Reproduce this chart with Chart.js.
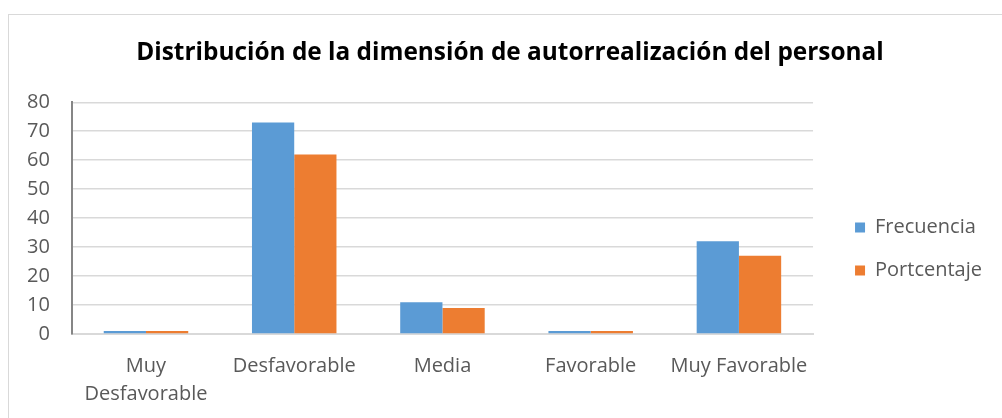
<!DOCTYPE html>
<html>
<head>
<meta charset="utf-8">
<script src="https://cdn.jsdelivr.net/npm/chart.js@4"></script>
<style>
  html, body { margin: 0; padding: 0; background: #fff; }
  body { width: 1002px; height: 418px; position: relative; overflow: hidden; }
  #frame { position: absolute; left: 8px; top: 14px; width: 1100px; height: 500px; border: 1px solid #D9D9D9; box-sizing: border-box; }
  #c { position: absolute; left: 0; top: 0; }
</style>
</head>
<body>
<div id="frame"></div>
<canvas id="c" width="1002" height="418"></canvas>
<script>
const titleText = 'Distribución de la dimensión de autorrealización del personal';
const categories = [['Muy', 'Desfavorable'], 'Desfavorable', 'Media', 'Favorable', 'Muy Favorable'];
const seriesNames = ['Frecuencia', 'Portcentaje'];
const frecuencia = [1, 73, 11, 1, 32];
const porcentaje = [1, 62, 9, 1, 27];
const yTicks = [0, 10, 20, 30, 40, 50, 60, 70, 80];

const FONT = '"Open Sans", sans-serif';
const TEXT = '#595959';

const shiftTitle = {
  id: 'shiftTitle',
  afterLayout(chart) {
    const t = chart.titleBlock;
    if (t) { t.left += 11.5; t.right += 11.5; }
  }
};

new Chart(document.getElementById('c'), {
  type: 'bar',
  data: {
    labels: categories,
    datasets: [
      { label: seriesNames[0], data: frecuencia, backgroundColor: '#5B9BD5', barPercentage: 1, categoryPercentage: 0.57, yAxisID: 'y' },
      { label: seriesNames[1], data: porcentaje, backgroundColor: '#ED7D31', barPercentage: 1, categoryPercentage: 0.57, yAxisID: 'y' }
    ]
  },
  plugins: [shiftTitle],
  options: {
    responsive: false,
    animation: false,
    layout: { padding: { left: 5, right: 10, top: 38, bottom: 0 } },
    plugins: {
      title: {
        display: true,
        text: titleText,
        color: '#000',
        font: { family: FONT, size: 24.4, weight: 'bold' },
        padding: { top: 0, bottom: 35 }
      },
      legend: {
        position: 'right',
        title: { display: true, text: '', font: { size: 10, lineHeight: 1.2 }, padding: 15 },
        labels: {
          boxWidth: 10, boxHeight: 10, padding: 23,
          color: TEXT,
          font: { family: FONT, size: 20 }
        }
      },
      tooltip: { enabled: false }
    },
    scales: {
      x: {
        grid: { display: false },
        border: { color: '#D9D9D9', width: 2 },
        ticks: {
          color: TEXT, font: { family: FONT, size: 20, lineHeight: 1.4 },
          maxRotation: 0, autoSkip: false, padding: 10
        }
      },
      y: {
        min: 0, max: 80,
        afterBuildTicks: (axis) => { axis.ticks = yTicks.map(v => ({ value: v })); },
        grid: { color: '#D9D9D9', lineWidth: 1.5, drawTicks: false },
        border: { color: '#868686', width: 2 },
        ticks: { color: TEXT, font: { family: FONT, size: 20 }, padding: 22 }
      },
      gap: {
        position: 'right', display: true, min: 0, max: 1,
        grid: { display: false, drawOnChartArea: false },
        border: { display: false },
        ticks: { display: false },
        afterFit: (axis) => { axis.width = 19; }
      }
    }
  }
});
</script>
</body>
</html>
